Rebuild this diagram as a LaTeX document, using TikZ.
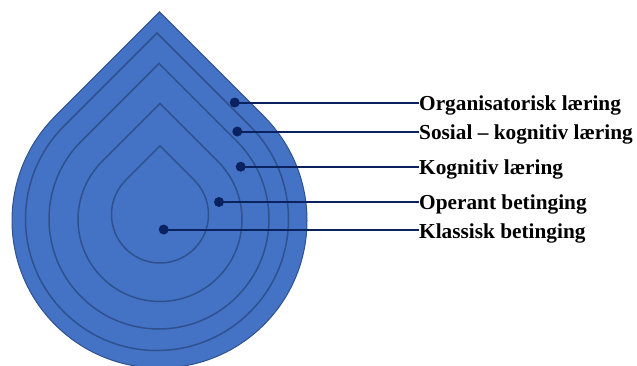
\documentclass[tikz,border=0pt]{standalone}
\usepackage{fontspec}
\setmainfont{Liberation Serif}
\definecolor{dropfill}{HTML}{4472C4}
\definecolor{dropline}{HTML}{2F528F}
\definecolor{navy}{HTML}{0B2260}
\newcommand\dropshape[4]{% #1 style, #2 cx, #3 cy, #4 r
  \path[#1] ({#2},{#3-1.41421*#4}) -- ({#2-0.70711*#4},{#3-0.70711*#4})
    arc[start angle=225,end angle=-45,radius={#4}] -- cycle;}
\tikzset{
  outerdrop/.style={fill=dropfill,draw=dropline,line width=1pt,line join=miter},
  innerdrop/.style={draw=dropline,line width=1.5pt,line join=miter},
  dotmark/.style={circle,fill=navy,inner sep=0pt,minimum size=10pt},
  label/.style={anchor=base west,inner sep=0pt,font=\fontsize{21.3}{24}\selectfont\bfseries},
  conn/.style={draw=navy,line width=2pt}
}
\begin{document}
\begin{tikzpicture}[x=1pt,y=-1pt]
\useasboundingbox (0,0) rectangle (637,365);
\clip (0,0) rectangle (637,365);
\dropshape{outerdrop}{159.5}{220.5}{147.5}
\dropshape{innerdrop}{157}{219}{131.5}
\dropshape{innerdrop}{159}{219}{110}
\dropshape{innerdrop}{160}{219.5}{82}
\dropshape{innerdrop}{160}{214.5}{48.5}

\node[dotmark] (d1) at (234.7,102.5) {};
\node[dotmark] (d2) at (237.3,131.5) {};
\node[dotmark] (d3) at (240.7,166.7) {};
\node[dotmark] (d4) at (219,202) {};
\node[dotmark] (d5) at (163.7,229.5) {};

\node[label] (l1) at (419,110.5) {Organisatorisk læring};
\node[label] (l2) at (419,139.3) {Sosial – kognitiv læring};
\node[label] (l3) at (419,174.3) {Kognitiv læring};
\node[label] (l4) at (419,209.8) {Operant betinging};
\node[label] (l5) at (419,238.8) {Klassisk betinging};

\foreach \i in {1,...,5}{
  \draw[conn] (d\i.center) -- (d\i -| l\i.west);
}
\end{tikzpicture}
\end{document}
